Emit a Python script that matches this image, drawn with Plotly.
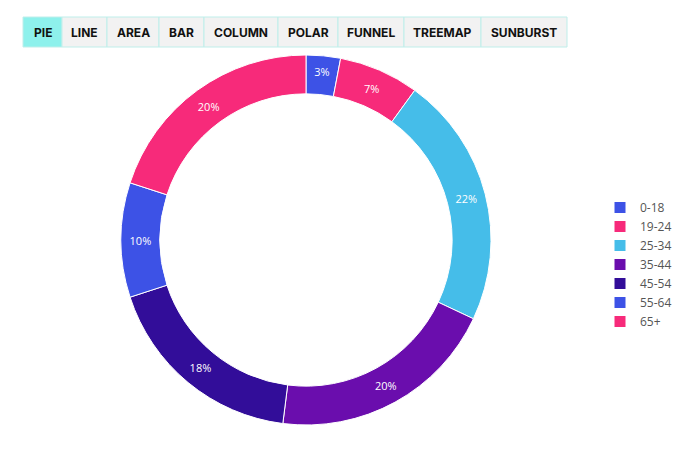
import plotly.graph_objects as go

age_groups = ["0-18", "19-24", "25-34", "35-44", "45-54", "55-64", "65+"]
shares = [3, 7, 22, 20, 18, 10, 20]
colors = ["#3d52e6", "#f72a7a", "#45bde9", "#6a0dad", "#320d99", "#3d52e6", "#f72a7a"]

buttons = ["PIE", "LINE", "AREA", "BAR", "COLUMN", "POLAR", "FUNNEL", "TREEMAP", "SUNBURST"]
edges = [23, 62, 107, 159, 204, 278, 338, 404, 481, 567]

W, H = 693, 449
off = 8  # page body margin shifts the plot

fig = go.Figure()
fig.add_trace(go.Pie(
	labels=age_groups, values=shares, hole=0.79, sort=False,
	direction="clockwise", rotation=0,
	marker=dict(colors=colors, line=dict(color="white", width=1)),
	texttemplate="%{percent:.0%}", textposition="inside",
	insidetextfont=dict(color="white", size=11, family="Open Sans"),
	domain=dict(x=[(306-off-185)/W, (306-off+185)/W], y=[(209+off-185)/H, (209+off+185)/H]),
))

shapes = []
annotations = []
for i, b in enumerate(buttons):
	x0, x1 = edges[i]-off, edges[i+1]-off
	shapes.append(dict(type="rect", xref="paper", yref="paper",
		x0=x0/W, x1=x1/W, y0=1-(47-off)/H, y1=1-(17-off)/H,
		fillcolor="#8ef1ec" if i == 0 else "#f2f2f2",
		line=dict(color="#bfeeea", width=1)))
	annotations.append(dict(xref="paper", yref="paper", x=(x0+x1)/2/W, y=1-(32-off)/H,
		text="<b>"+b+"</b>", showarrow=False, font=dict(family="Inter", size=12, color="#111"),
		xanchor="center", yanchor="middle"))

fig.update_layout(
	width=W, height=H,
	margin=dict(l=0, r=0, t=0, b=0),
	paper_bgcolor="white",
	shapes=shapes, annotations=annotations,
	legend=dict(x=(600-off)/W, y=1-(193-off)/H, xanchor="left", yanchor="top",
		font=dict(family="Open Sans", size=12, color="#555"),
		itemwidth=30, tracegroupgap=0),
)
fig.write_html("out.html")
